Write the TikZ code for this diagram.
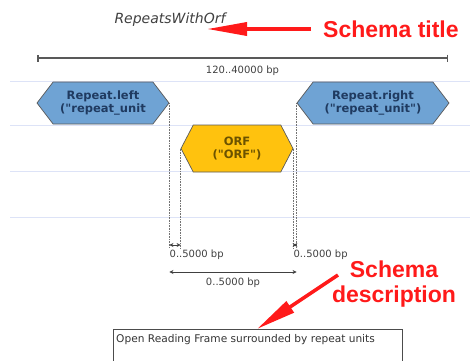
\documentclass[tikz,border=0pt]{standalone}
\usepackage{fontspec}
\setmainfont{DejaVu Sans}[Ligatures=TeXOff]
\newfontfamily\notefont{Liberation Sans}
\usetikzlibrary{arrows.meta, positioning, calc, shapes.symbols}

\definecolor{repeatblue}{HTML}{6FA3D4}
\definecolor{orfgold}{HTML}{FFC20E}
\definecolor{featuretext}{HTML}{1F3A60}
\definecolor{orftext}{HTML}{6B5200}
\definecolor{gridline}{HTML}{DDE3F7}
\definecolor{notered}{HTML}{FF1A1A}

\tikzset{
  feature/.style={signal, signal to=west and east, draw=black!65, line width=0.7pt,
    font=\fontsize{11.5}{12.5}\selectfont\bfseries, text=featuretext, align=center, inner sep=0pt},
  gap/.style={{Stealth[length=4pt,width=4pt]}-{Stealth[length=4pt,width=4pt]}, black!75, line width=0.8pt},
  drop/.style={densely dotted, black!55, line width=0.6pt},
  bplabel/.style={font=\fontsize{10}{12}\selectfont, text=black!75, inner sep=0pt},
  note/.style={font=\notefont\fontsize{23}{25}\selectfont\bfseries, text=notered, align=center, inner sep=0pt},
  notearrow/.style={-{Triangle[length=40pt,width=13pt]}, notered, line width=3.5pt}
}

\begin{document}
\begin{tikzpicture}[x=1pt, y=-1pt]
		\useasboundingbox (0,0) rectangle (470,360);
		\clip (0,0) rectangle (470,360);
		
		% Track lines
		\foreach \y in {81,125,171,217}
		\draw[gridline, line width=1pt] (10,\y) -- (470,\y);
		
		% Title
		\node[font=\fontsize{14}{16}\selectfont\itshape, text=black!75, inner sep=0pt] (title) at (170,20) {RepeatsWithOrf};
		
		% Overall range
		\coordinate (rangestart) at (37,58);
		\coordinate (rangeend) at (448,58);
		\draw[{Bar[width=7pt]}-{Bar[width=7pt]}, black!65, line width=1.5pt] (rangestart) -- (rangeend)
		node[bplabel, midway, below=7pt] (rangelabel) {120..40000 bp};
		
		% Features
		\node[feature, fill=repeatblue, minimum width=132pt, minimum height=42pt, signal pointer angle=105] (repeatleft) at (103,103) {Repeat.left\\("repeat\_unit};
		\node[feature, fill=repeatblue, minimum width=152pt, minimum height=42pt, signal pointer angle=105] (repeatright) at (373,103) {Repeat.right\\("repeat\_unit")};
		\node[feature, fill=orfgold, text=orftext, minimum width=112pt, minimum height=47pt, signal pointer angle=125] (orf) at (237,148.5) {ORF\\("ORF")};
		
		% Drop lines
		\coordinate (dropline) at (0,248);
		\coordinate (gapline) at (0,245);
		\coordinate (spanline) at (0,272);
		\draw[drop] (repeatleft.east) -- (repeatleft.east |- dropline);
		\draw[drop] (orf.west) -- (orf.west |- dropline);
		\draw[drop] (orf.east) -- (orf.east |- dropline);
		\draw[drop] (repeatright.west) -- (repeatright.west |- dropline);
		
		% Distances
		\draw[gap] (repeatleft.east |- gapline) -- (orf.west |- gapline);
		\draw[gap] (orf.east |- gapline) -- (repeatright.west |- gapline);
		\node[bplabel, anchor=west] (leftgap) at ($(repeatleft.east |- 0,255)$) {0..5000 bp};
		\node[bplabel, anchor=west] (rightgap) at ($(orf.east |- 0,255)$) {0..5000 bp};
		\draw[gap] (repeatleft.east |- spanline) -- node[bplabel, below=5pt] (spanlabel) {0..5000 bp} (repeatright.west |- spanline);
		
		% Description box
		\node[draw=black!70, line width=1.2pt, anchor=north west, minimum width=289pt, minimum height=40pt] (descbox) at (113,329) {};
		\node[font=\fontsize{10.6}{12}\selectfont, text=black!80, anchor=west, inner sep=0pt] (desctext) at (116,340) {Open Reading Frame surrounded by repeat units};
		
		% Notes
		\node[note, anchor=west] (titlenote) at (323,29) {Schema title};
		\node[note] (descnote) at (394,284) {Schema\\description};
		\coordinate (titletip) at (207,29);
		\coordinate (desctip) at (257,329);
		\draw[notearrow] (titlenote.west) ++(-12,0) -- (titletip);
		\draw[notearrow] (338,275) -- (desctip);
	\end{tikzpicture}
\end{document}
